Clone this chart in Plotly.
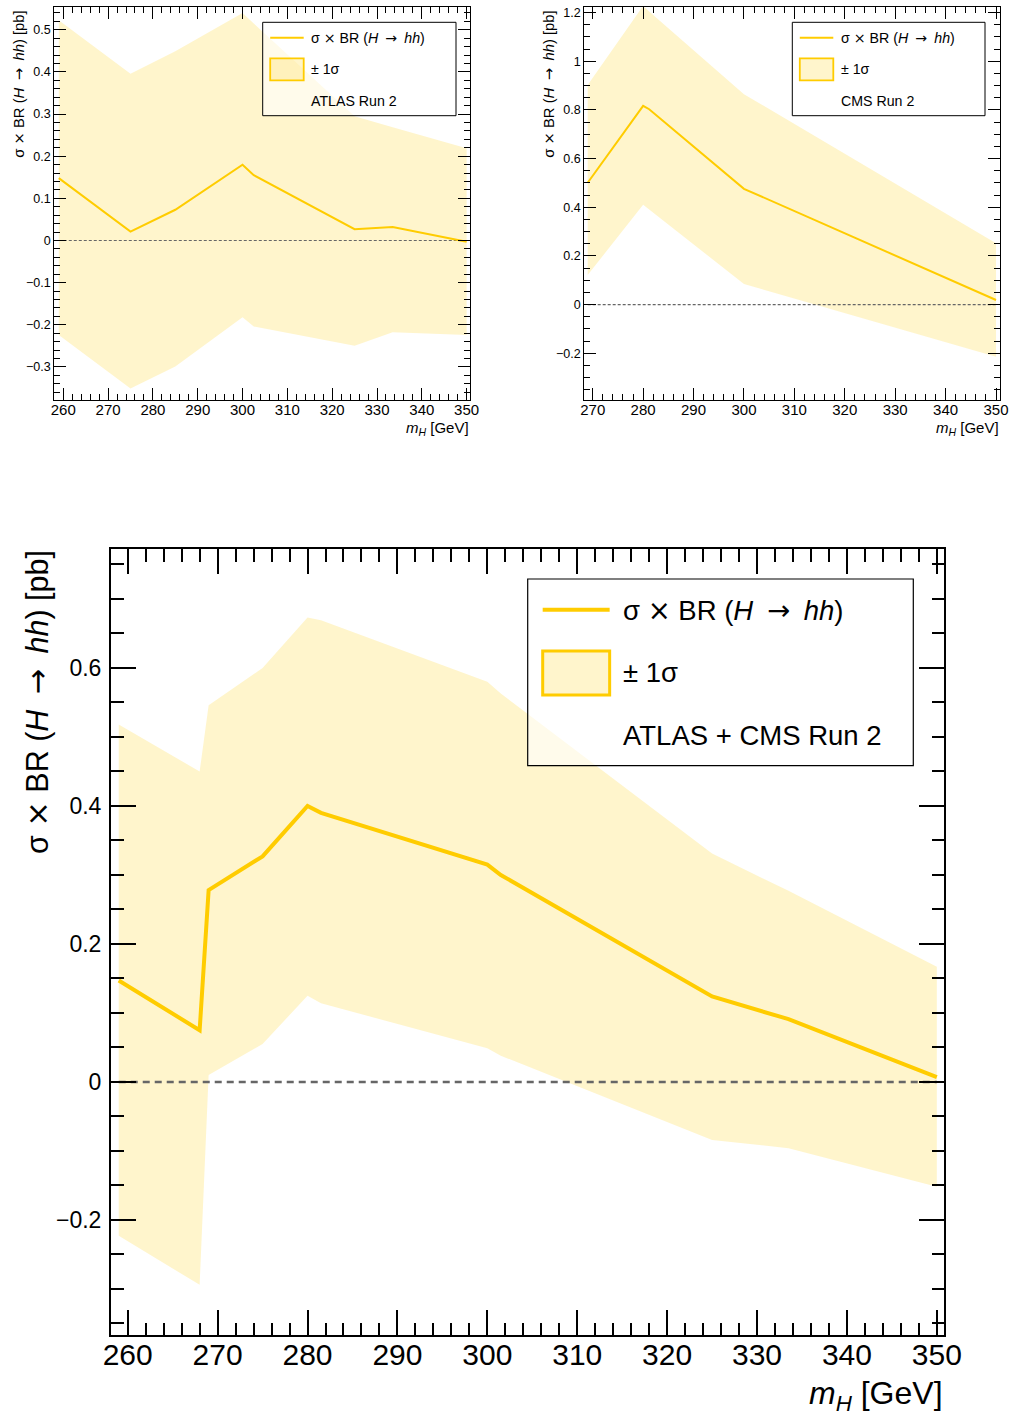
import plotly.graph_objects as go

# ---------------- data ----------------
# ATLAS Run 2
atlas_mass = [259, 275, 285, 300, 302.5, 325, 333.5, 350]
atlas_xsec = [0.148, 0.021, 0.073, 0.180, 0.155, 0.027, 0.032, -0.003]
atlas_up = [0.523, 0.396, 0.449, 0.540, 0.515, 0.295, 0.269, 0.219]
atlas_lo = [-0.224, -0.351, -0.299, -0.182, -0.204, -0.250, -0.218, -0.224]

# CMS Run 2
cms_mass = [269, 280, 281.2, 300, 350]
cms_xsec = [0.501, 0.817, 0.803, 0.476, 0.019]
cms_up = [0.903, 1.228, 1.205, 0.865, 0.252]
cms_lo = [0.122, 0.410, 0.392, 0.085, -0.214]

# ATLAS + CMS Run 2
comb_mass = [259, 268, 269, 275, 280, 281.5, 300, 301.5, 325, 333.5, 350]
comb_xsec = [0.147, 0.075, 0.278, 0.327, 0.400, 0.390, 0.315, 0.300, 0.124, 0.091, 0.007]
comb_up = [0.518, 0.450, 0.546, 0.600, 0.673, 0.669, 0.580, 0.563, 0.331, 0.277, 0.167]
comb_lo = [-0.223, -0.294, 0.010, 0.055, 0.125, 0.114, 0.049, 0.038, -0.084, -0.096, -0.152]

x_ticks = [260, 270, 280, 290, 300, 310, 320, 330, 340, 350]

# ---------------- style ----------------
W, H = 1011, 1419
FONT = "Liberation Sans, Arial, Helvetica, sans-serif"
SYM = "font-family:'DejaVu Sans'"
GOLD = "#FFCC00"
BAND = "rgba(255,204,0,0.20)"
SP = "\u2002"  # wider gap around the arrow
ARROW = f"<span style=\"{SYM}\">→</span>"
TIMES = f"<span style=\"{SYM}\">×</span>"
LEG_LINE = f"σ {TIMES} BR (<i>H</i>{SP}{ARROW}{SP}<i>hh</i>)"
YTITLE = LEG_LINE + " [pb]"
XTITLE = "<i>m</i><sub><i>H</i></sub> [GeV]"


def px(x):
    return x / W


def py(y):
    return 1 - y / H


fig = go.Figure()

panels = [
    dict(ax="", mass=atlas_mass, c=atlas_xsec, up=atlas_up, lo=atlas_lo,
         frame=(54.3, 470, 7.3, 400), xr=[258.0, 350.75], yr=[-0.3785, 0.5535],
         ydt=0.1, ymin=0.02, lw=2, dw=1.2, dash="3px,2px", fw=1.3,
         tl=(12, 6), ytf=12.5, xtf=15, tick_w=1,
         legend=(262.7, 456, 22.3, 115.7), label="ATLAS Run 2", lfs=14.2),
    dict(ax="2", mass=cms_mass, c=cms_xsec, up=cms_up, lo=cms_lo,
         frame=(584.3, 1000, 7.3, 400), xr=[268.33, 350.79], yr=[-0.392, 1.222],
         ydt=0.2, ymin=0.05, lw=2, dw=1.2, dash="3px,2px", fw=1.3,
         tl=(12, 6), ytf=12.5, xtf=15, tick_w=1,
         legend=(792.3, 985, 22.3, 115.7), label="CMS Run 2", lfs=14.2),
    dict(ax="3", mass=comb_mass, c=comb_xsec, up=comb_up, lo=comb_lo,
         frame=(111, 944.3, 549.3, 1335), xr=[258.14, 350.83], yr=[-0.3667, 0.772],
         ydt=0.2, ymin=0.05, lw=4, dw=2.5, dash="7px,5px", fw=2,
         tl=(25, 12.5), ytf=23, xtf=30, tick_w=1.6,
         legend=(527.7, 913.3, 579, 765.7), label="ATLAS + CMS Run 2", lfs=27.5),
]

shapes = []
annotations = []

for p in panels:
    xa = "x" + p["ax"]
    ya = "y" + p["ax"]
    m = p["mass"]

    # ±1σ band
    fig.add_trace(go.Scatter(
        x=m + m[::-1], y=p["up"] + p["lo"][::-1],
        xaxis=xa, yaxis=ya, mode="lines", fill="toself",
        fillcolor=BAND, line=dict(width=0), hoverinfo="skip", showlegend=False))
    # zero reference
    fig.add_trace(go.Scatter(
        x=[m[0], m[-1]], y=[0, 0], xaxis=xa, yaxis=ya, mode="lines",
        line=dict(color="#666666", width=p["dw"], dash=p["dash"]),
        hoverinfo="skip", showlegend=False))
    # central value
    fig.add_trace(go.Scatter(
        x=m, y=p["c"], xaxis=xa, yaxis=ya, mode="lines",
        line=dict(color=GOLD, width=p["lw"]), showlegend=False))

    x0, x1, y0, y1 = p["frame"]
    big = p["ax"] == "3"
    common = dict(showline=True, linecolor="black", linewidth=p["fw"], mirror="ticks",
                  ticks="inside", ticklen=p["tl"][0], tickwidth=p["tick_w"], tickcolor="black",
                  showgrid=False, zeroline=False, automargin=False,
                  minor=dict(ticks="inside", ticklen=p["tl"][1], tickwidth=p["tick_w"],
                             tickcolor="black", showgrid=False))
    xkey = "xaxis" + p["ax"]
    ykey = "yaxis" + p["ax"]
    fig.update_layout(**{
        xkey: dict(domain=[px(x0), px(x1)], range=p["xr"], anchor=ya,
                   tickvals=x_ticks, ticktext=[str(v) for v in x_ticks],
                   tickfont=dict(family=FONT, size=p["xtf"], color="black"),
                   ticklabelstandoff=-8 if big else -4,
                   **{**common, "minor": {**common["minor"], "dtick": 2, "tick0": 260}}),
        ykey: dict(domain=[py(y1), py(y0)], range=p["yr"], anchor=xa,
                   dtick=p["ydt"], tick0=0,
                   tickfont=dict(family=FONT, size=p["ytf"], color="black"),
                   ticklabelstandoff=3 if big else 0,
                   **{**common, "minor": {**common["minor"], "dtick": p["ymin"], "tick0": 0}}),
    })

    # axis titles
    if big:
        annotations.append(dict(x=px(37), y=py(548), xref="paper", yref="paper",
                                text=YTITLE, textangle=-90, showarrow=False,
                                xanchor="center", yanchor="top",
                                font=dict(family=FONT, size=30.5, color="black")))
        annotations.append(dict(x=px(945), y=py(1373), xref="paper", yref="paper",
                                text=XTITLE, showarrow=False, xanchor="right", yanchor="top",
                                font=dict(family=FONT, size=32, color="black")))
    else:
        annotations.append(dict(x=px(x0 - 36), y=py(9), xref="paper", yref="paper",
                                text=YTITLE, textangle=-90, showarrow=False,
                                xanchor="center", yanchor="top",
                                font=dict(family=FONT, size=14.8, color="black")))
        annotations.append(dict(x=px(x1 + 1), y=py(417), xref="paper", yref="paper",
                                text=XTITLE, showarrow=False, xanchor="right", yanchor="top",
                                font=dict(family=FONT, size=15, color="black")))

    # legend box
    lx0, lx1, ly0, ly1 = p["legend"]
    sc = (ly1 - ly0) / 93.4
    shapes.append(dict(type="rect", xref="paper", yref="paper",
                       x0=px(lx0), x1=px(lx1), y0=py(ly1), y1=py(ly0),
                       line=dict(color="black", width=1.2 if big else 1),
                       fillcolor="rgba(255,255,255,0.6)", layer="above"))
    sx0 = lx0 + 7.5 * sc
    sx1 = lx0 + 41 * sc
    row1 = ly0 + 15.4 * sc
    row2 = ly0 + 47 * sc
    row3 = ly0 + 78.5 * sc
    shapes.append(dict(type="line", xref="paper", yref="paper",
                       x0=px(sx0), x1=px(sx1), y0=py(row1), y1=py(row1),
                       line=dict(color=GOLD, width=p["lw"]), layer="above"))
    shapes.append(dict(type="rect", xref="paper", yref="paper",
                       x0=px(sx0), x1=px(sx1), y0=py(row2 + 11 * sc), y1=py(row2 - 11 * sc),
                       line=dict(color=GOLD, width=3 if big else 1.8),
                       fillcolor=BAND, layer="above"))
    tx = lx0 + 46.5 * sc
    for txt, ry in [(LEG_LINE, row1), ("± 1σ", row2), (p["label"], row3)]:
        annotations.append(dict(x=px(tx), y=py(ry), xref="paper", yref="paper",
                                text=txt, showarrow=False, xanchor="left", yanchor="middle",
                                font=dict(family=FONT, size=p["lfs"], color="black")))

fig.update_layout(
    width=W, height=H, margin=dict(l=0, r=0, t=0, b=0, autoexpand=False),
    paper_bgcolor="white", plot_bgcolor="white",
    shapes=shapes, annotations=annotations, showlegend=False,
)

fig.write_html("out.html")
